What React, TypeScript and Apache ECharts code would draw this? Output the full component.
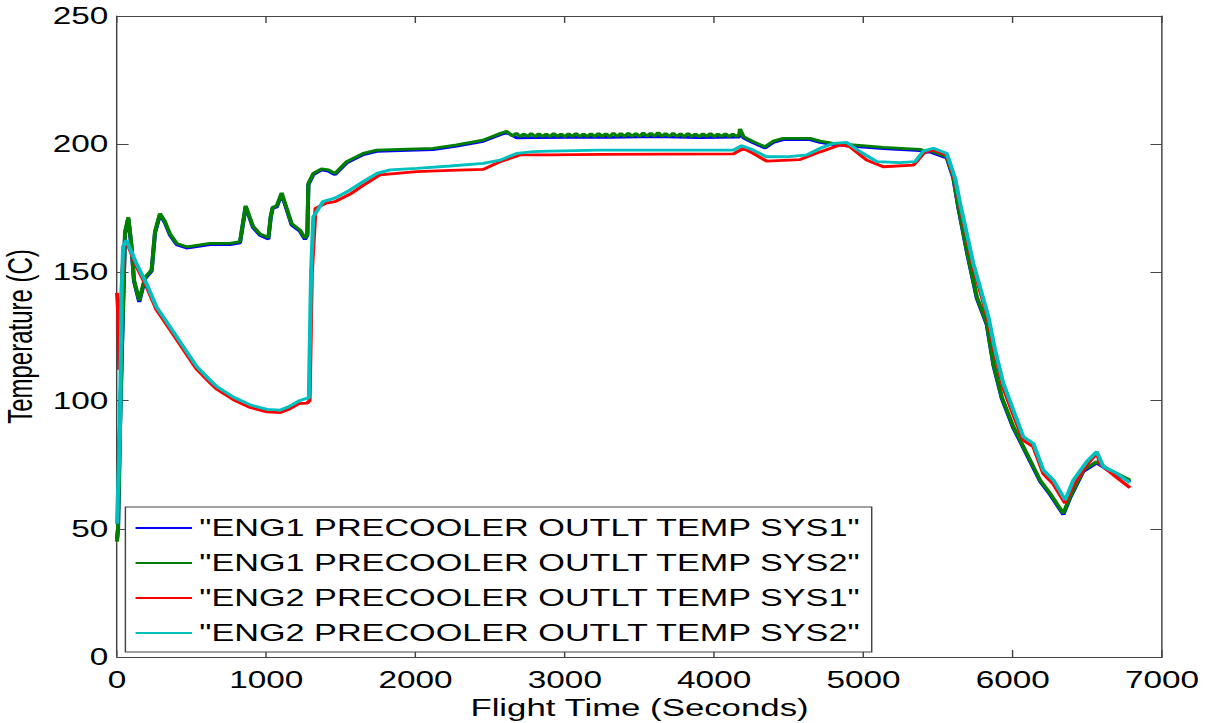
import React, { useEffect, useRef } from "react";
import * as echarts from "echarts";

// ---- data (time in seconds, temperature in C) ----
const xTicks = [0, 1000, 2000, 3000, 4000, 5000, 6000, 7000];
const yTicks = [0, 50, 100, 150, 200, 250];

const seriesNames = [
  '"ENG1 PRECOOLER OUTLT TEMP SYS1"',
  '"ENG1 PRECOOLER OUTLT TEMP SYS2"',
  '"ENG2 PRECOOLER OUTLT TEMP SYS1"',
  '"ENG2 PRECOOLER OUTLT TEMP SYS2"',
];
const seriesColors = ["#0000ff", "#008000", "#ff0000", "#00bfbf"];

const eng1Sys1: [number, number][] = [
  [0, 46], [7, 50], [20, 89], [33, 120], [54, 165], [76, 171], [98, 159.5], [114, 146.5],
  [149, 138.5], [188, 147.5], [232, 150.5], [255, 165.5], [288, 172.5], [320, 169.5],
  [355, 164.5], [400, 160.8], [467, 159.5], [556, 160.2], [623, 160.8], [757, 160.8],
  [824, 161.5], [862, 175.5], [911, 167.5], [958, 164.5], [1014, 163], [1030, 171.5],
  [1043, 175], [1070, 175.5], [1103, 180.5], [1170, 168.5], [1226, 166], [1259, 162.8],
  [1275, 164.5], [1282, 184.2], [1315, 188.1], [1371, 190], [1416, 189.5], [1460, 188.1],
  [1539, 192.7], [1650, 195.9], [1740, 197.2], [1896, 197.5], [2117, 197.9], [2276, 199.2],
  [2452, 201.1], [2566, 203.7], [2611, 204.5], [2678, 202.5], [2800, 202.6], [3000, 202.7],
  [3300, 202.7], [3600, 203], [3900, 202.6], [4170, 202.8], [4173, 205.5], [4196, 202.5],
  [4262, 200.5], [4341, 198.5], [4396, 200.7],
  [4463, 201.8], [4642, 201.8], [4709, 200.7], [4799, 199.8], [4932, 199.2], [5133, 198.3],
  [5379, 197.5], [5413, 196.8], [5446, 197], [5558, 194.6], [5602, 186.8], [5636, 175.1],
  [5692, 158.2], [5759, 140], [5826, 129.6], [5870, 114], [5926, 101], [6004, 89.3],
  [6094, 78.9], [6183, 68.5], [6250, 63.3], [6339, 55.5], [6384, 62], [6473, 72.4],
  [6563, 75.7], [6630, 73.1], [6786, 68.5],
];

const eng1Sys2: [number, number][] = [
  [0, 45], [7, 50], [20, 90], [33, 121], [54, 166], [76, 171.5], [98, 160], [114, 147],
  [149, 139], [188, 148], [232, 151], [255, 166], [288, 173], [320, 170], [355, 165],
  [400, 161.3], [467, 160], [556, 160.7], [623, 161.3], [757, 161.3], [824, 162], [862, 176],
  [911, 168], [958, 165], [1014, 163.6], [1030, 172], [1043, 175.4], [1070, 176], [1103, 181],
  [1170, 169], [1226, 166.5], [1259, 163.3], [1275, 165], [1282, 184.7], [1315, 188.6],
  [1371, 190.4], [1416, 190], [1460, 188.6], [1539, 193.2], [1650, 196.4], [1740, 197.7],
  [1896, 198], [2117, 198.4], [2276, 199.7], [2452, 201.6], [2566, 204.2], [2611, 205],
  [2650, 203.2], [2675, 204.3], [2700, 202.9], [2725, 204], [2750, 203], [2775, 204.2],
  [2800, 202.9], [2825, 204.1], [2850, 203], [2875, 204], [2900, 202.9], [2925, 204.2],
  [2950, 203], [2975, 204], [3000, 202.9], [3025, 204.1], [3050, 203], [3075, 204.2],
  [3100, 202.9], [3125, 204], [3150, 203], [3175, 204.1], [3200, 202.9], [3225, 204.2],
  [3250, 203], [3275, 204.1], [3300, 202.9], [3325, 204.3], [3350, 203], [3375, 204.2],
  [3400, 203], [3425, 204.3], [3450, 203.1], [3475, 204.2], [3500, 203], [3525, 204.4],
  [3550, 203.1], [3575, 204.3], [3600, 203.1], [3625, 204.5], [3650, 203.1], [3675, 204.2],
  [3700, 203], [3725, 204.3], [3750, 203], [3775, 204.1], [3800, 202.9], [3825, 204.2],
  [3850, 203], [3875, 204], [3900, 202.9], [3925, 204.1], [3950, 203], [3975, 204.2],
  [4000, 202.9], [4025, 204], [4050, 203], [4075, 204.1], [4100, 202.9], [4125, 204],
  [4150, 203], [4170, 204], [4173, 206],
  [4196, 203], [4262, 201], [4341, 199], [4396, 201.2], [4463, 202.3], [4642, 202.3],
  [4709, 201.2], [4799, 200.3], [4932, 199.7], [5133, 198.8], [5379, 198], [5413, 197.3],
  [5446, 197.5], [5558, 195.1], [5602, 187.3], [5636, 175.6], [5692, 158.7], [5759, 140.5],
  [5826, 130.1], [5870, 114.5], [5926, 101.5], [6004, 89.8], [6094, 79.4], [6183, 69],
  [6250, 63.8], [6339, 56], [6384, 62.5], [6473, 72.9], [6563, 76.2], [6630, 73.6], [6786, 69],
];

const eng2Sys1: [number, number][] = [
  [0, 142], [8, 135], [15, 112], [25, 125], [35, 150], [50, 160], [65, 162], [130, 152.5],
  [197, 144.7], [264, 135.6], [355, 127.8], [445, 120], [535, 112.2], [623, 107], [670, 104.4],
  [781, 100.3], [893, 97.3], [1005, 95.6], [1094, 95.3], [1150, 96.6], [1217, 98.8],
  [1273, 99], [1290, 100], [1305, 150], [1330, 175], [1400, 177], [1460, 177.6],
  [1561, 180.5], [1650, 184], [1760, 188], [2008, 189.3], [2231, 189.8], [2454, 190.2],
  [2566, 193.2], [2700, 195.8], [2900, 195.8], [3236, 196], [4129, 196.2], [4196, 198.4],
  [4262, 196.4], [4352, 193.4], [4575, 194], [4709, 197], [4843, 199.7], [4910, 199],
  [5022, 193.8], [5133, 191.2], [5334, 191.8], [5413, 197], [5468, 197.7], [5558, 195.8],
  [5614, 186], [5647, 176], [5692, 164], [5736, 152], [5793, 140.5], [5837, 131],
  [5882, 118], [5937, 105], [6004, 94.5], [6071, 84.5], [6138, 82], [6205, 71.5],
  [6272, 67.5], [6351, 60], [6406, 67], [6496, 75], [6563, 79.5], [6590, 75], [6697, 70],
  [6786, 66],
];

const eng2Sys2: [number, number][] = [
  [0, 52], [10, 70], [20, 88.5], [30, 140.5], [41, 160], [63, 162.6], [130, 153.5],
  [197, 145.7], [264, 136.6], [355, 128.8], [445, 121], [535, 113.2], [623, 108],
  [670, 105.4], [781, 101.3], [893, 98.3], [1005, 96.6], [1094, 96.3], [1150, 97.6],
  [1217, 99.8], [1273, 100.9], [1285, 101], [1300, 150], [1315, 171.7], [1380, 177.6],
  [1460, 179], [1561, 182.1], [1650, 185.4], [1740, 188.6], [1830, 190], [2008, 190.6],
  [2231, 191.5], [2454, 192.5], [2566, 193.8], [2678, 196.4], [2790, 197.1], [2900, 197.3],
  [3236, 197.7], [4129, 197.7], [4185, 199.4], [4262, 197.7], [4352, 195.1], [4486, 195.1],
  [4620, 195.8], [4709, 198.4], [4799, 200.3], [4888, 200.7], [4977, 197.1], [5089, 193.2],
  [5245, 192.8], [5346, 193.2], [5401, 197.3], [5468, 198.4], [5558, 196.4], [5614, 186.7],
  [5647, 177], [5692, 165.2], [5736, 153.5], [5793, 141.8], [5837, 132.7], [5882, 119.7],
  [5937, 106.7], [6004, 96.3], [6071, 85.9], [6138, 83.3], [6205, 72.9], [6272, 69],
  [6351, 61.2], [6406, 69], [6496, 76.2], [6563, 80.1], [6607, 74.2], [6697, 71.6],
  [6786, 68],
];

const seriesData = [eng1Sys1, eng1Sys2, eng2Sys1, eng2Sys2];

// The reference figure is stretched horizontally; we draw at a narrower width and stretch.
const FULL_W = 1209;
const FULL_H = 723;
const INNER_W = 834;
const STRETCH = FULL_W / INNER_W;

const FONT = "'Liberation Sans', Arial, Helvetica, sans-serif";
const AXIS_COLOR = "#444";

export default function App() {
  const ref = useRef<HTMLDivElement>(null);

  useEffect(() => {
    if (!ref.current) return;
    const chart = echarts.init(ref.current, null, { renderer: "svg" });

    const axisLine = { show: true, onZero: false, lineStyle: { color: AXIS_COLOR, width: 1 } };
    const plain = (v: number) => String(v);

    const option: any = {
      animation: false,
      backgroundColor: "#ffffff",
      textStyle: { fontFamily: FONT },
      grid: {
        left: 80.7,
        right: 32.4,
        top: 16,
        bottom: 66,
        containLabel: false,
        outerBoundsMode: "none",
      },
      legend: {
        orient: "vertical",
        left: 86.5,
        top: 507,
        data: seriesNames,
        icon: "rect",
        itemWidth: 39,
        itemHeight: 2,
        itemGap: 11,
        padding: [9, 7, 7, 7],
        borderColor: AXIS_COLOR,
        borderWidth: 1,
        backgroundColor: "#ffffff",
        textStyle: {
          fontFamily: FONT,
          fontSize: 23.6,
          lineHeight: 24,
          color: "#000",
        },
      },
      xAxis: [
        {
          type: "value",
          position: "bottom",
          min: xTicks[0],
          max: xTicks[xTicks.length - 1],
          interval: xTicks[1] - xTicks[0],
          name: "Flight Time (Seconds)",
          nameLocation: "middle",
          nameGap: 35,
          nameTextStyle: { fontFamily: FONT, fontSize: 24, color: "#000" },
          axisLine,
          axisTick: { show: true, inside: true, length: 7, lineStyle: { color: AXIS_COLOR } },
          axisLabel: { fontFamily: FONT, fontSize: 23, color: "#000", margin: 11, formatter: plain },
          splitLine: { show: false },
        },
        {
          type: "value",
          position: "top",
          min: xTicks[0],
          max: xTicks[xTicks.length - 1],
          interval: xTicks[1] - xTicks[0],
          axisLine,
          axisTick: { show: true, inside: true, length: 7, lineStyle: { color: AXIS_COLOR } },
          axisLabel: { show: false },
          splitLine: { show: false },
        },
      ],
      yAxis: [
        {
          type: "value",
          position: "left",
          min: yTicks[0],
          max: yTicks[yTicks.length - 1],
          interval: yTicks[1] - yTicks[0],
          name: "Temperature (C)",
          nameLocation: "middle",
          nameGap: 42,
          nameTextStyle: { fontFamily: FONT, fontSize: 24, color: "#000" },
          axisLine,
          axisTick: { show: true, inside: true, length: 8, lineStyle: { color: AXIS_COLOR } },
          axisLabel: { fontFamily: FONT, fontSize: 23, color: "#000", margin: 6, formatter: plain },
          splitLine: { show: false },
        },
        {
          type: "value",
          position: "right",
          min: yTicks[0],
          max: yTicks[yTicks.length - 1],
          interval: yTicks[1] - yTicks[0],
          axisLine,
          axisTick: { show: true, inside: true, length: 8, lineStyle: { color: AXIS_COLOR } },
          axisLabel: { show: false },
          splitLine: { show: false },
        },
      ],
      series: seriesNames.map((name, i) => ({
        name,
        type: "line",
        xAxisIndex: 0,
        yAxisIndex: 0,
        data: seriesData[i],
        showSymbol: false,
        symbol: "none",
        color: seriesColors[i],
        lineStyle: { color: seriesColors[i], width: 2.8 },
        z: 2 + i,
      })),
    };

    chart.setOption(option);
    return () => chart.dispose();
  }, []);

  return (
    <div
      style={{
        position: "absolute",
        left: 0,
        top: 0,
        width: FULL_W,
        height: FULL_H,
        overflow: "hidden",
        background: "#fff",
      }}
    >
      <div
        ref={ref}
        style={{
          width: INNER_W,
          height: FULL_H,
          transform: `scaleX(${STRETCH})`,
          transformOrigin: "0 0",
        }}
      />
    </div>
  );
}
